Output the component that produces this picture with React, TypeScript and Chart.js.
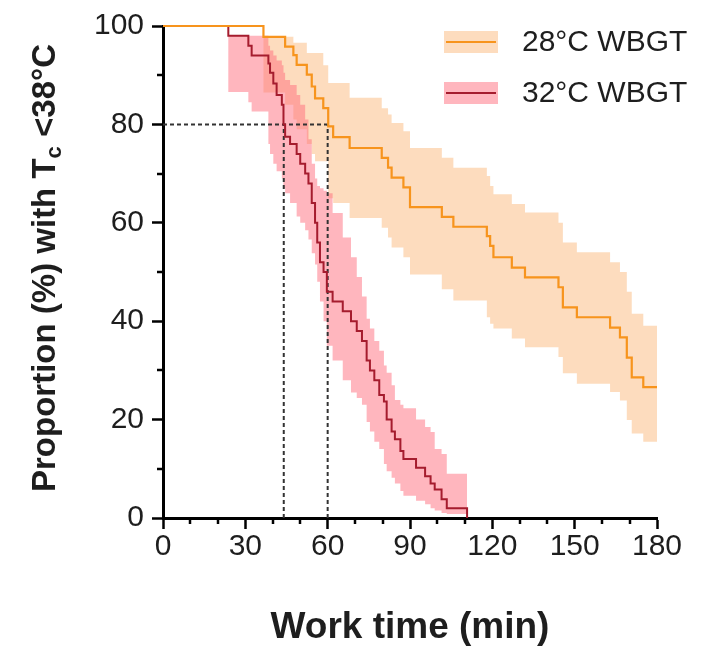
import React, { useEffect, useRef } from 'react';
import { Chart, registerables } from 'chart.js';

Chart.register(...registerables);

// ---------- DATA ----------
// 28°C WBGT : Kaplan–Meier step (time in min, % with Tc < 38°C) and 95% CI band
const TIME_28 = [0, 36.6, 44.5, 47.5, 48.7, 52.4, 54.2, 55.4, 58.4, 60.2, 62, 68, 79.7, 82, 83.3, 87.6, 90, 101.6, 105.8, 118, 119.2, 120.4, 127.1, 131.9, 144.1, 145.7, 150.8, 162.9, 166.5, 169, 170.8, 175, 180];
const SURV_28 = [100, 97.8, 95.8, 94.1, 92.1, 90.1, 87.7, 85.3, 83.3, 79.6, 77.4, 75.2, 73.2, 71.2, 69.2, 67.2, 63.2, 61.2, 59.2, 57.3, 55.3, 53, 50.9, 48.9, 46.9, 42.8, 40.8, 38.7, 36.7, 32.6, 28.6, 26.6, 26.6];
const UPPER_28 = [100, 97.8, 97.8, 96.6, 96.6, 94.5, 94.5, 94.5, 92, 88.4, 88.4, 85.4, 83.3, 82, 80.3, 78.6, 75.2, 73.2, 71.2, 69.5, 67.5, 65.8, 63.8, 62.1, 60, 56, 54, 52, 50, 46, 41.5, 39.1, 39.1];
const LOWER_28 = [100, 86.5, 84, 81, 79, 76, 74, 72.5, 72.5, 65, 64, 61, 59, 57, 55, 53, 49.5, 46.5, 44.2, 40.8, 39.5, 38.5, 36.5, 34.7, 32.7, 29.4, 27.3, 25.6, 23.9, 19.9, 17.2, 15.5, 15.5];

// 32°C WBGT
const TIME_32 = [0, 23.8, 31.1, 32.3, 38.4, 39.0, 40.2, 41.4, 43.3, 43.9, 44.5, 46.3, 48.7, 50, 51.8, 53, 54.2, 55.4, 56.2, 57.2, 58.5, 59.7, 61.8, 65.5, 68.5, 70.6, 72.5, 74.2, 75.4, 77, 78.8, 80.5, 81.5, 83.3, 84.5, 86.5, 87.6, 92.2, 95.5, 97.5, 99, 101.5, 103.4, 110.8];
const SURV_32 = [100, 98, 96, 94, 92.4, 90.5, 88.3, 86, 84, 80, 77.5, 76, 74, 72, 70, 68, 64, 60, 56, 52, 50, 46, 44, 42, 40, 38, 36, 32, 30, 28, 25, 23.7, 20, 17.6, 16, 13.6, 12, 10.2, 8.5, 7, 5.8, 3.8, 2, 0];
const UPPER_32 = [100, 98, 98, 98, 96, 95, 94, 93, 92, 90.5, 89, 88, 86, 84, 81, 77, 72, 69, 67.5, 67, 66.5, 66, 62, 57, 53, 49, 45, 40.5, 38.5, 36, 34, 31, 29.5, 27, 24, 23, 22.3, 20, 18.5, 17.5, 14, 13, 9, 9];
const LOWER_32 = [100, 86.6, 84.5, 82.6, 76, 74, 72, 70.5, 69, 67, 66, 64, 61.3, 60, 58.5, 56.6, 53.8, 51.5, 48, 44, 40, 35, 32, 28, 25.5, 24.4, 23, 19.5, 17.6, 15.5, 14, 11, 9.5, 8.2, 7, 5.5, 4.5, 3.5, 2.8, 2, 1.5, 1, 0.8, 0.8];

// Reference (dashed) lines: 80% level, and times at which each group falls to 80%
const REF_LEVEL = 80;
const REF_TIMES = [44, 60];

// Axes
const X_MIN = 0, X_MAX = 180, X_STEP = 30, X_MINOR = 10;
const Y_MIN = 0, Y_MAX = 100, Y_STEP = 20, Y_MINOR = 10;

const LABEL_28 = '28°C WBGT';
const LABEL_32 = '32°C WBGT';
const X_TITLE = 'Work time (min)';
const Y_TITLE_PARTS = ['Proportion (%) with T', 'c', ' <38°C'];

// ---------- STYLE ----------
const FONT = '"Liberation Sans", Arial, Helvetica, sans-serif';
const ORANGE = '#F7941D';
const ORANGE_FILL = 'rgba(252, 186, 125, 0.5)';
const RED = '#A51C2E';
const RED_FILL = 'rgba(255, 110, 125, 0.5)';
const TEXT = '#1e1e1e';
const DASH = '#333333';

const pts = (xs: number[], ys: number[]) => xs.map((x, i) => ({ x, y: ys[i] }));

const minorTicksPlugin = {
  id: 'minorTicks',
  afterDraw(chart: any) {
    const { ctx, chartArea } = chart;
    const xs = chart.scales.x;
    const ys = chart.scales.y;
    ctx.save();
    ctx.strokeStyle = '#000';
    ctx.lineWidth = 2.5;
    for (let v = X_MIN + X_MINOR; v < X_MAX; v += X_MINOR) {
      if (v % X_STEP === 0) continue;
      const px = Math.round(xs.getPixelForValue(v));
      ctx.beginPath();
      ctx.moveTo(px, chartArea.bottom);
      ctx.lineTo(px, chartArea.bottom + 6);
      ctx.stroke();
    }
    for (let v = Y_MIN + Y_MINOR; v < Y_MAX; v += Y_MINOR) {
      if (v % Y_STEP === 0) continue;
      const py = Math.round(ys.getPixelForValue(v));
      ctx.beginPath();
      ctx.moveTo(chartArea.left, py);
      ctx.lineTo(chartArea.left - 6, py);
      ctx.stroke();
    }
    ctx.restore();
  },
};

const yTitlePlugin = {
  id: 'yTitle',
  afterDraw(chart: any) {
    const { ctx } = chart;
    const big = `bold 33px ${FONT}`;
    const small = `bold 22px ${FONT}`;
    ctx.save();
    ctx.fillStyle = TEXT;
    ctx.textBaseline = 'middle';
    ctx.textAlign = 'left';
    const fonts = [big, small, big];
    const widths = Y_TITLE_PARTS.map((t, i) => {
      ctx.font = fonts[i];
      return ctx.measureText(t).width;
    });
    const total = widths.reduce((a, b) => a + b, 0);
    ctx.translate(46, 268);
    ctx.rotate(-Math.PI / 2);
    let x = -total / 2;
    Y_TITLE_PARTS.forEach((t, i) => {
      ctx.font = fonts[i];
      ctx.fillText(t, x, i === 1 ? 9 : 0);
      x += widths[i];
    });
    ctx.restore();
  },
};

const legendPlugin = {
  id: 'boxLegend',
  afterDraw(chart: any) {
    const { ctx, chartArea } = chart;
    const items = [
      { label: LABEL_28, fill: ORANGE_FILL, line: ORANGE },
      { label: LABEL_32, fill: RED_FILL, line: RED },
    ];
    ctx.save();
    items.forEach((it, i) => {
      const y = chartArea.top + 16 + i * 51;
      const bx = chartArea.right - 213;
      ctx.fillStyle = it.fill;
      ctx.fillRect(bx, y - 11, 54, 22);
      ctx.strokeStyle = it.line;
      ctx.lineWidth = 2;
      ctx.beginPath();
      ctx.moveTo(bx + 2, y);
      ctx.lineTo(bx + 52, y);
      ctx.stroke();
      ctx.fillStyle = TEXT;
      ctx.font = `30px ${FONT}`;
      ctx.textBaseline = 'middle';
      ctx.textAlign = 'left';
      ctx.fillText(it.label, bx + 78, y + 1);
    });
    ctx.restore();
  },
};

export default function App() {
  const ref = useRef<HTMLCanvasElement | null>(null);

  useEffect(() => {
    document.body.style.margin = '0';
    const canvas = ref.current;
    if (!canvas) return;

    const lineCommon = { stepped: 'before' as const, pointRadius: 0, fill: false, clip: 6 };
    const bandCommon = { stepped: 'before' as const, pointRadius: 0, borderWidth: 0, borderColor: 'rgba(0,0,0,0)' };
    const dashCommon = { borderColor: DASH, borderWidth: 2, borderDash: [4, 3], pointRadius: 0, order: 2, fill: false };

    const datasets: any[] = [
      { label: LABEL_28, data: pts(TIME_28, SURV_28), borderColor: ORANGE, borderWidth: 2.2, order: 0, ...lineCommon },
      { label: LABEL_32, data: pts(TIME_32, SURV_32), borderColor: RED, borderWidth: 2, order: 1, ...lineCommon },
      { label: 'ref-h', data: [{ x: X_MIN, y: REF_LEVEL }, { x: REF_TIMES[1], y: REF_LEVEL }], ...dashCommon },
      { label: 'ref-v1', data: [{ x: REF_TIMES[0], y: 0 }, { x: REF_TIMES[0], y: REF_LEVEL }], ...dashCommon },
      { label: 'ref-v2', data: [{ x: REF_TIMES[1], y: 0 }, { x: REF_TIMES[1], y: REF_LEVEL }], ...dashCommon },
      { label: 'u32', data: pts(TIME_32, UPPER_32), backgroundColor: RED_FILL, fill: '+1', order: 3, ...bandCommon },
      { label: 'l32', data: pts(TIME_32, LOWER_32), backgroundColor: RED_FILL, fill: false, order: 3, ...bandCommon },
      { label: 'u28', data: pts(TIME_28, UPPER_28), backgroundColor: ORANGE_FILL, fill: '+1', order: 4, ...bandCommon },
      { label: 'l28', data: pts(TIME_28, LOWER_28), backgroundColor: ORANGE_FILL, fill: false, order: 4, ...bandCommon },
    ];

    const chart = new Chart(canvas, {
      type: 'line',
      data: { datasets },
      options: {
        animation: false,
        responsive: false,
        maintainAspectRatio: false,
        devicePixelRatio: 1,
        layout: { padding: { left: 0, top: 23, right: 47, bottom: 0 } },
        plugins: { legend: { display: false }, tooltip: { enabled: false } },
        scales: {
          x: {
            type: 'linear',
            min: X_MIN,
            max: X_MAX,
            afterFit: (s: any) => { s.height = 132; },
            ticks: { stepSize: X_STEP, color: TEXT, font: { family: FONT, size: 30 }, padding: 0, maxRotation: 0 },
            grid: { display: true, drawOnChartArea: false, drawTicks: true, tickLength: 11, tickWidth: 2.5, tickColor: '#000' },
            border: { display: true, color: '#000', width: 3 },
            title: { display: true, text: X_TITLE, color: TEXT, font: { family: FONT, size: 37, weight: 'bold' }, padding: { top: 0, bottom: 0 } },
          },
          y: {
            type: 'linear',
            min: Y_MIN,
            max: Y_MAX,
            afterFit: (s: any) => { s.width = 163; },
            ticks: { stepSize: Y_STEP, color: TEXT, font: { family: FONT, size: 30 }, padding: 8 },
            grid: { display: true, drawOnChartArea: false, drawTicks: true, tickLength: 11, tickWidth: 2.5, tickColor: '#000' },
            border: { display: true, color: '#000', width: 3 },
            title: { display: false },
          },
        },
      },
      plugins: [minorTicksPlugin, yTitlePlugin, legendPlugin],
    });

    return () => chart.destroy();
  }, []);

  return (
    <div style={{ position: 'fixed', left: 0, top: 0, width: 704, height: 650, background: '#fff' }}>
      <canvas ref={ref} width={704} height={650} style={{ width: 704, height: 650, display: 'block' }} />
    </div>
  );
}
